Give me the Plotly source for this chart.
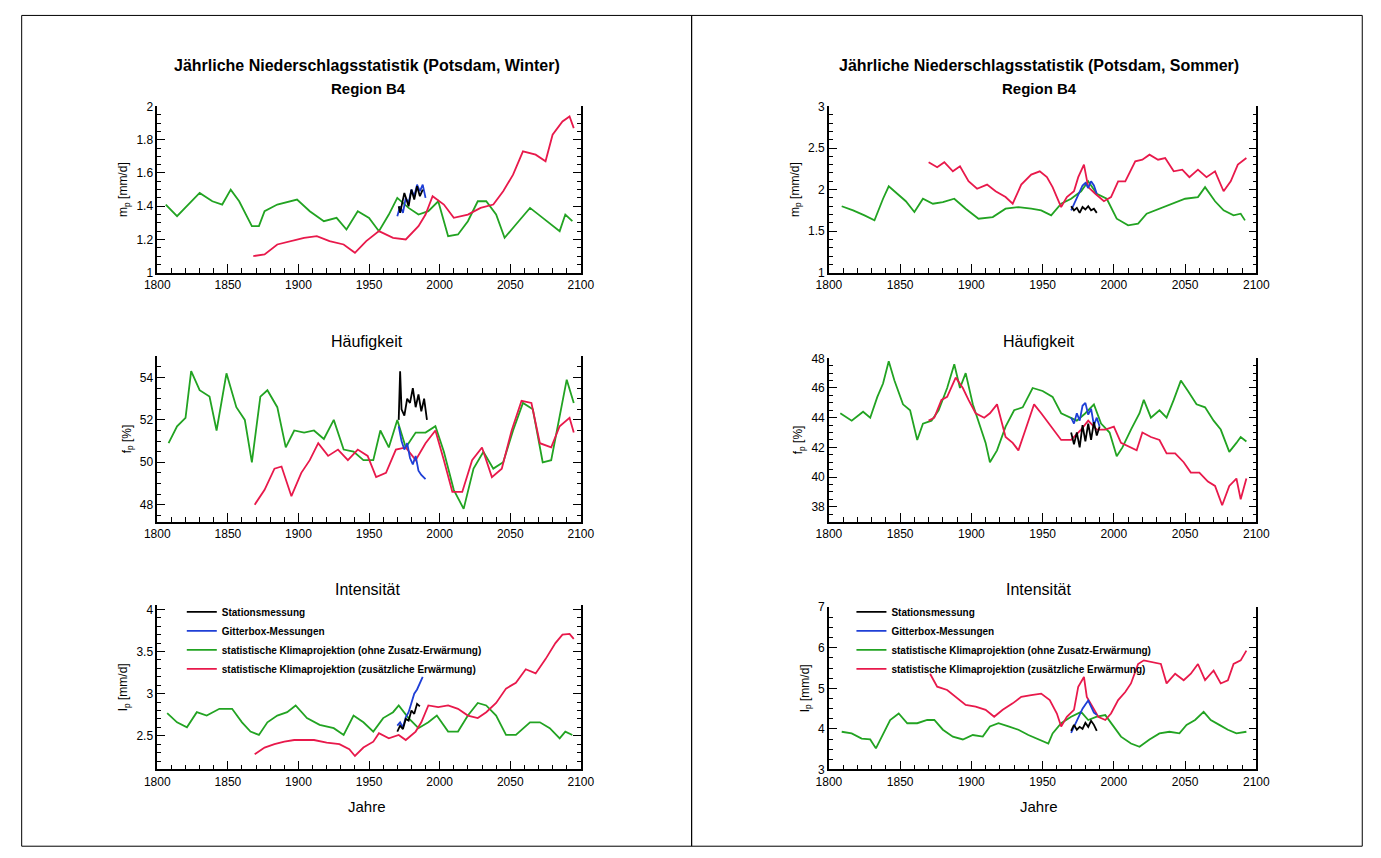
import plotly.graph_objects as go

# ---------------- DATA ----------------
years_axis = [1800, 2100]

# Winter, mean precipitation m_p [mm/d]
w_m_green_x = [1806, 1814, 1830, 1839, 1846, 1852, 1858, 1867, 1872, 1876, 1885, 1899, 1908, 1918, 1927, 1934, 1942, 1950, 1957, 1964, 1970, 1978, 1985, 1992, 1999, 2006, 2013, 2020, 2027, 2033, 2040, 2046, 2054, 2064, 2073, 2085, 2089, 2094]
w_m_green_y = [1.41, 1.34, 1.48, 1.43, 1.41, 1.50, 1.43, 1.28, 1.28, 1.37, 1.41, 1.44, 1.37, 1.31, 1.33, 1.26, 1.37, 1.33, 1.25, 1.35, 1.45, 1.39, 1.35, 1.37, 1.43, 1.22, 1.23, 1.31, 1.43, 1.43, 1.35, 1.21, 1.29, 1.39, 1.33, 1.25, 1.35, 1.31]
w_m_red_x = [1868, 1876, 1885, 1894, 1904, 1913, 1922, 1932, 1940, 1948, 1957, 1967, 1976, 1985, 1990, 1995, 2003, 2010, 2020, 2029, 2038, 2045, 2052, 2059, 2068, 2075, 2080, 2087, 2092, 2095]
w_m_red_y = [1.10, 1.11, 1.17, 1.19, 1.21, 1.22, 1.19, 1.17, 1.12, 1.19, 1.25, 1.21, 1.20, 1.28, 1.35, 1.46, 1.41, 1.33, 1.35, 1.39, 1.41, 1.49, 1.59, 1.73, 1.71, 1.67, 1.83, 1.91, 1.94, 1.87]
w_m_black_x = [1971, 1972, 1975, 1978, 1980, 1982, 1984, 1986, 1988]
w_m_black_y = [1.40, 1.36, 1.48, 1.40, 1.50, 1.44, 1.52, 1.46, 1.50]
w_m_blue_x = [1970, 1972, 1974, 1976, 1978, 1980, 1982, 1984, 1986, 1988, 1990]
w_m_blue_y = [1.34, 1.40, 1.36, 1.45, 1.42, 1.50, 1.46, 1.53, 1.49, 1.53, 1.45]

# Winter, frequency f_p [%]
w_f_green_x = [1808, 1814, 1820, 1824, 1830, 1837, 1842, 1849, 1856, 1862, 1867, 1873, 1878, 1885, 1891, 1897, 1904, 1911, 1918, 1925, 1932, 1939, 1946, 1953, 1958, 1964, 1970, 1976, 1983, 1990, 1997, 2003, 2010, 2017, 2024, 2031, 2038, 2045, 2052, 2059, 2066, 2073, 2079, 2085, 2090, 2095]
w_f_green_y = [50.9, 51.7, 52.1, 54.3, 53.4, 53.1, 51.5, 54.2, 52.6, 52.0, 50.0, 53.1, 53.4, 52.6, 50.7, 51.5, 51.4, 51.5, 51.1, 52.0, 50.6, 50.5, 50.1, 50.1, 51.5, 50.7, 52.0, 50.7, 51.4, 51.4, 51.7, 50.5, 48.7, 47.8, 49.7, 50.5, 49.7, 50.0, 51.5, 52.8, 52.5, 50.0, 50.1, 52.1, 53.9, 52.8]
w_f_red_x = [1869, 1876, 1883, 1888, 1895, 1902, 1908, 1914, 1921, 1928, 1935, 1942, 1949, 1955, 1962, 1969, 1976, 1983, 1990, 1997, 2003, 2009, 2016, 2023, 2030, 2037, 2044, 2051, 2058, 2065, 2071, 2079, 2085, 2092, 2095]
w_f_red_y = [48.0, 48.7, 49.7, 49.8, 48.4, 49.5, 50.1, 50.9, 50.3, 50.6, 50.1, 50.6, 50.3, 49.3, 49.5, 50.6, 50.7, 50.1, 50.9, 51.5, 50.1, 48.6, 48.6, 50.1, 50.7, 49.3, 49.7, 51.5, 52.9, 52.8, 50.9, 50.7, 51.7, 52.1, 51.4]
w_f_black_x = [1971, 1972, 1973, 1975, 1977, 1979, 1981, 1983, 1985, 1987, 1989, 1991]
w_f_black_y = [52.0, 54.3, 52.5, 52.2, 53.0, 52.8, 53.5, 52.6, 53.2, 52.4, 53.0, 52.0]
w_f_blue_x = [1971, 1973, 1975, 1977, 1979, 1981, 1983, 1985, 1987, 1990]
w_f_blue_y = [51.7, 51.0, 50.6, 50.9, 50.2, 49.9, 50.3, 49.6, 49.4, 49.2]

# Winter, intensity I_p [mm/d]
w_i_green_x = [1807, 1814, 1821, 1828, 1835, 1844, 1853, 1860, 1866, 1872, 1878, 1885, 1892, 1898, 1906, 1915, 1925, 1932, 1939, 1946, 1953, 1960, 1967, 1971, 1978, 1985, 1992, 1998, 2006, 2013, 2020, 2027, 2033, 2040, 2047, 2054, 2064, 2071, 2078, 2085, 2089, 2094]
w_i_green_y = [2.77, 2.66, 2.60, 2.78, 2.74, 2.82, 2.82, 2.66, 2.55, 2.51, 2.66, 2.74, 2.78, 2.86, 2.71, 2.63, 2.59, 2.51, 2.74, 2.66, 2.55, 2.71, 2.78, 2.86, 2.71, 2.59, 2.66, 2.74, 2.55, 2.55, 2.74, 2.89, 2.86, 2.74, 2.51, 2.51, 2.66, 2.66, 2.59, 2.47, 2.55, 2.51]
w_i_red_x = [1869, 1876, 1883, 1890, 1897, 1904, 1911, 1920, 1929, 1936, 1940, 1946, 1953, 1957, 1964, 1971, 1976, 1983, 1987, 1992, 1999, 2006, 2013, 2020, 2027, 2033, 2040, 2047, 2054, 2061, 2068, 2075, 2082, 2087, 2092, 2095]
w_i_red_y = [2.28, 2.36, 2.40, 2.43, 2.45, 2.45, 2.45, 2.42, 2.40, 2.34, 2.26, 2.36, 2.43, 2.53, 2.47, 2.51, 2.45, 2.55, 2.66, 2.86, 2.84, 2.86, 2.82, 2.74, 2.71, 2.78, 2.89, 3.06, 3.13, 3.29, 3.24, 3.41, 3.60, 3.70, 3.71, 3.65]
w_i_black_x = [1970, 1972, 1974, 1976, 1978, 1980, 1982, 1984, 1986]
w_i_black_y = [2.55, 2.62, 2.58, 2.70, 2.68, 2.80, 2.76, 2.88, 2.85]
w_i_blue_x = [1970, 1972, 1974, 1976, 1978, 1980, 1982, 1984, 1986, 1988]
w_i_blue_y = [2.62, 2.66, 2.60, 2.72, 2.78, 2.90, 3.00, 3.05, 3.12, 3.20]

# Summer, mean precipitation m_p [mm/d]
s_m_green_x = [1809, 1817, 1825, 1832, 1838, 1842, 1848, 1854, 1860, 1866, 1873, 1880, 1888, 1896, 1905, 1915, 1924, 1933, 1942, 1949, 1956, 1963, 1970, 1977, 1982, 1988, 1995, 2002, 2010, 2017, 2023, 2032, 2041, 2050, 2059, 2064, 2071, 2077, 2084, 2089, 2092]
s_m_green_y = [1.80, 1.75, 1.69, 1.63, 1.89, 2.04, 1.95, 1.86, 1.73, 1.89, 1.83, 1.85, 1.89, 1.77, 1.65, 1.67, 1.77, 1.79, 1.77, 1.75, 1.69, 1.83, 1.89, 1.98, 2.10, 1.95, 1.89, 1.65, 1.57, 1.59, 1.71, 1.77, 1.83, 1.89, 1.91, 2.03, 1.86, 1.75, 1.69, 1.71, 1.63]
s_m_red_x = [1870, 1876, 1881, 1887, 1892, 1898, 1904, 1911, 1917, 1924, 1929, 1935, 1942, 1948, 1953, 1957, 1963, 1967, 1972, 1975, 1979, 1982, 1987, 1993, 1998, 2003, 2008, 2015, 2020, 2025, 2031, 2036, 2042, 2048, 2053, 2059, 2065, 2071, 2077, 2082, 2087, 2093]
s_m_red_y = [2.33, 2.27, 2.33, 2.22, 2.28, 2.10, 2.01, 2.06, 1.98, 1.91, 1.83, 2.06, 2.18, 2.22, 2.15, 2.03, 1.79, 1.91, 1.98, 2.15, 2.30, 2.03, 1.95, 1.86, 1.91, 2.10, 2.10, 2.34, 2.36, 2.42, 2.36, 2.38, 2.22, 2.24, 2.15, 2.24, 2.15, 2.22, 1.98, 2.10, 2.30, 2.38]
s_m_black_x = [1970, 1972, 1974, 1976, 1978, 1980, 1982, 1984, 1986, 1988]
s_m_black_y = [1.80, 1.75, 1.78, 1.72, 1.79, 1.76, 1.80, 1.75, 1.77, 1.72]
s_m_blue_x = [1970, 1972, 1974, 1976, 1978, 1980, 1982, 1984, 1986, 1988]
s_m_blue_y = [1.75, 1.82, 1.90, 1.98, 2.05, 2.08, 2.02, 2.10, 2.05, 1.95]

# Summer, frequency f_p [%]
s_f_green_x = [1808, 1816, 1824, 1829, 1834, 1838, 1842, 1846, 1852, 1857, 1862, 1866, 1872, 1877, 1883, 1888, 1892, 1896, 1901, 1905, 1910, 1913, 1918, 1924, 1930, 1936, 1943, 1950, 1957, 1963, 1969, 1974, 1980, 1986, 1991, 1997, 2002, 2006, 2012, 2018, 2021, 2026, 2032, 2037, 2042, 2047, 2052, 2058, 2064, 2070, 2075, 2081, 2086, 2089, 2093]
s_f_green_y = [44.3, 43.8, 44.4, 44.0, 45.4, 46.3, 47.8, 46.5, 44.9, 44.5, 42.5, 43.6, 43.8, 44.5, 46.0, 47.6, 46.0, 47.0, 44.9, 43.8, 42.3, 41.0, 41.8, 43.4, 44.5, 44.7, 46.0, 45.8, 45.4, 44.3, 44.0, 43.8, 44.3, 44.9, 43.6, 43.0, 41.4, 42.0, 43.2, 44.3, 45.2, 44.0, 44.5, 44.0, 45.2, 46.5, 45.8, 44.9, 44.7, 43.8, 43.2, 41.7, 42.3, 42.7, 42.4]
s_f_red_x = [1870, 1874, 1879, 1883, 1889, 1894, 1898, 1903, 1909, 1913, 1918, 1924, 1929, 1933, 1938, 1944, 1949, 1956, 1963, 1970, 1977, 1982, 1988, 1994, 2000, 2005, 2011, 2016, 2020, 2026, 2032, 2037, 2043, 2049, 2054, 2060, 2066, 2071, 2076, 2081, 2086, 2089, 2093]
s_f_red_y = [43.8, 44.0, 45.2, 45.4, 46.7, 46.0, 45.2, 44.3, 44.0, 44.3, 44.9, 42.7, 42.3, 41.8, 43.2, 44.9, 44.3, 43.4, 42.5, 42.5, 43.2, 43.8, 43.2, 43.2, 43.4, 42.3, 42.0, 41.8, 43.0, 42.7, 42.5, 41.6, 41.6, 41.0, 40.3, 40.3, 39.7, 39.4, 38.1, 39.4, 39.9, 38.5, 39.9]
s_f_black_x = [1970, 1972, 1974, 1976, 1978, 1980, 1982, 1984, 1986, 1988, 1990]
s_f_black_y = [43.0, 42.2, 43.0, 42.0, 43.5, 42.4, 43.6, 42.5, 43.7, 42.8, 43.4]
s_f_blue_x = [1970, 1972, 1974, 1976, 1978, 1980, 1982, 1984, 1986, 1988, 1990]
s_f_blue_y = [44.0, 43.6, 44.3, 43.8, 44.8, 45.0, 44.2, 44.6, 43.5, 44.0, 43.4]

# Summer, intensity I_p [mm/d]
s_i_green_x = [1809, 1816, 1823, 1829, 1833, 1838, 1843, 1849, 1855, 1862, 1869, 1874, 1880, 1887, 1894, 1901, 1908, 1913, 1919, 1926, 1933, 1940, 1947, 1954, 1957, 1963, 1970, 1977, 1982, 1988, 1994, 2000, 2005, 2012, 2018, 2025, 2032, 2039, 2046, 2051, 2057, 2063, 2068, 2074, 2080, 2086, 2093]
s_i_green_y = [3.93, 3.89, 3.76, 3.74, 3.52, 3.89, 4.22, 4.38, 4.14, 4.14, 4.22, 4.22, 3.98, 3.81, 3.74, 3.85, 3.81, 4.06, 4.14, 4.06, 3.98, 3.85, 3.74, 3.64, 3.89, 4.14, 4.30, 4.42, 4.22, 4.30, 4.34, 4.06, 3.81, 3.64, 3.56, 3.74, 3.89, 3.93, 3.89, 4.10, 4.22, 4.42, 4.22, 4.10, 3.98, 3.89, 3.93]
s_i_red_x = [1871, 1876, 1883, 1889, 1896, 1903, 1910, 1916, 1922, 1929, 1935, 1942, 1949, 1955, 1960, 1963, 1967, 1972, 1975, 1979, 1981, 1985, 1989, 1994, 1998, 2003, 2008, 2012, 2017, 2021, 2027, 2033, 2037, 2043, 2049, 2054, 2059, 2064, 2070, 2075, 2080, 2084, 2089, 2093]
s_i_red_y = [5.36, 5.04, 4.96, 4.79, 4.59, 4.55, 4.47, 4.30, 4.47, 4.63, 4.79, 4.83, 4.87, 4.71, 4.38, 4.06, 4.30, 4.47, 5.04, 5.28, 4.79, 4.55, 4.30, 4.22, 4.38, 4.71, 4.91, 5.12, 5.60, 5.69, 5.65, 5.60, 5.12, 5.36, 5.20, 5.36, 5.60, 5.20, 5.44, 5.12, 5.20, 5.60, 5.69, 5.93]
s_i_black_x = [1970, 1972, 1974, 1976, 1978, 1980, 1982, 1984, 1986, 1988]
s_i_black_y = [3.95, 4.10, 3.98, 4.05, 4.00, 4.15, 4.05, 4.20, 4.10, 3.95]
s_i_blue_x = [1970, 1972, 1974, 1976, 1978, 1980, 1982, 1984, 1986, 1988]
s_i_blue_y = [3.90, 4.05, 4.20, 4.35, 4.50, 4.60, 4.70, 4.55, 4.40, 4.35]

legend_names = [
    "Stationsmessung",
    "Gitterbox-Messungen",
    "statistische Klimaprojektion (ohne Zusatz-Erwärmung)",
    "statistische Klimaprojektion (zusätzliche Erwärmung)",
]

# ---------------- FIGURE ----------------
W, H = 1381, 858
OFF = 8  # page offset of the plot div in the browser
GREEN = "#22a322"
RED = "#e8194b"
BLUE = "#1f3fd6"
BLACK = "#000000"
FONT = "Liberation Sans"

fig = go.Figure()

def px_x(p):
    return (p - OFF) / W

def px_y(p):
    return 1 - (p - OFF) / H

def dx(a, b):
    return [px_x(a), px_x(b)]

def dy(top, bottom):
    return [px_y(bottom), px_y(top)]

LX = dx(147, 579)
RX = dx(832, 1268)
panels = [
    (1, LX, dy(101, 270), [1.0, 2.0], 0.2, 0.05, "m<sub>p</sub> [mm/d]",
     (w_m_green_x, w_m_green_y, w_m_red_x, w_m_red_y, w_m_blue_x, w_m_blue_y, w_m_black_x, w_m_black_y), None),
    (2, LX, dy(355, 523), [47.2, 55.0], 2, 0.5, "f<sub>p</sub> [%]",
     (w_f_green_x, w_f_green_y, w_f_red_x, w_f_red_y, w_f_blue_x, w_f_blue_y, w_f_black_x, w_f_black_y), None),
    (3, LX, dy(608, 775), [2.1, 4.05], 0.5, 0.1, "I<sub>p</sub> [mm/d]",
     (w_i_green_x, w_i_green_y, w_i_red_x, w_i_red_y, w_i_blue_x, w_i_blue_y, w_i_black_x, w_i_black_y), "legend"),
    (4, RX, dy(101, 270), [1.0, 3.0], 0.5, 0.1, "m<sub>p</sub> [mm/d]",
     (s_m_green_x, s_m_green_y, s_m_red_x, s_m_red_y, s_m_blue_x, s_m_blue_y, s_m_black_x, s_m_black_y), None),
    (5, RX, dy(357, 523), [37.0, 48.0], 2, 0.5, "f<sub>p</sub> [%]",
     (s_f_green_x, s_f_green_y, s_f_red_x, s_f_red_y, s_f_blue_x, s_f_blue_y, s_f_black_x, s_f_black_y), None),
    (6, RX, dy(610, 775), [3.0, 7.0], 1, 0.25, "I<sub>p</sub> [mm/d]",
     (s_i_green_x, s_i_green_y, s_i_red_x, s_i_red_y, s_i_blue_x, s_i_blue_y, s_i_black_x, s_i_black_y), "legend2"),
]

layout_axes = {}
for idx, xd, yd, yr, dt, mn, yt, data, leg in panels:
    xa = "x" if idx == 1 else f"x{idx}"
    ya = "y" if idx == 1 else f"y{idx}"
    gx, gy, rx, ry, bx, by, kx, ky = data
    show = leg is not None
    lg = leg if leg else "legend"
    series = [
        (gx, gy, GREEN, legend_names[2], 3),
        (rx, ry, RED, legend_names[3], 4),
        (bx, by, BLUE, legend_names[1], 2),
        (kx, ky, BLACK, legend_names[0], 1),
    ]
    for sx, sy, col, nm, rank in series:
        fig.add_trace(go.Scatter(
            x=sx, y=sy, mode="lines", name=nm, xaxis=xa, yaxis=ya,
            line=dict(color=col, width=1.8), showlegend=show,
            legend=lg, legendrank=rank, hoverinfo="skip",
        ))
    base = dict(showline=True, linecolor="black", linewidth=1.5,
                ticks="inside", tickcolor="black", showgrid=False,
                zeroline=False, tickfont=dict(family=FONT, size=12, color="black"))
    xkey = "xaxis" if idx == 1 else f"xaxis{idx}"
    ykey = "yaxis" if idx == 1 else f"yaxis{idx}"
    layout_axes[xkey] = dict(domain=xd, anchor=ya, range=years_axis, dtick=50, tick0=1800,
                             mirror=False, ticklen=9,
                             minor=dict(ticks="inside", ticklen=5, dtick=10, tickcolor="black"),
                             **base)
    layout_axes[ykey] = dict(domain=yd, anchor=xa, range=yr, dtick=dt, tick0=0,
                             mirror="ticks", ticklen=8,
                             minor=dict(ticks="inside", ticklen=4, dtick=mn, tickcolor="black"),
                             title=dict(text=yt, font=dict(family=FONT, size=12, color="black"), standoff=6),
                             **base)

fig.update_layout(**layout_axes)

def ann(text, xpx, ypx, size=13, bold=True):
    fig.add_annotation(text=f"<b>{text}</b>" if bold else text, x=px_x(xpx), y=px_y(ypx),
                       xref="paper", yref="paper", showarrow=False,
                       font=dict(family=FONT, size=size, color="black"),
                       xanchor="center", yanchor="middle")

ann("Jährliche Niederschlagsstatistik (Potsdam, Winter)", 361, 59, 16)
ann("Region B4", 362, 83, 15)
ann("Häufigkeit", 361, 340, 16, bold=False)
ann("Intensität", 361, 592, 16, bold=False)
ann("Jahre", 361, 813, 15, bold=False)

ann("Jährliche Niederschlagsstatistik (Potsdam, Sommer)", 1046, 59, 16)
ann("Region B4", 1047, 83, 15)
ann("Häufigkeit", 1046, 340, 16, bold=False)
ann("Intensität", 1046, 592, 16, bold=False)
ann("Jahre", 1046, 813, 15, bold=False)

# page frames
for x0, x1 in [(6, 692), (692, 1376)]:
    fig.add_shape(type="rect", xref="paper", yref="paper",
                  x0=max(px_x(x0), 0.0005), x1=px_x(x1), y0=px_y(853), y1=min(px_y(6), 0.9995),
                  line=dict(color="black", width=1))

legkw = dict(bgcolor="rgba(0,0,0,0)", borderwidth=0, tracegroupgap=0,
             font=dict(family=FONT, size=10, color="black", weight="bold"),
             xanchor="left", yanchor="top", itemwidth=30)
fig.update_layout(
    width=W, height=H, margin=dict(l=0, r=0, t=0, b=0),
    paper_bgcolor="white", plot_bgcolor="white",
    legend=dict(x=px_x(172), y=px_y(600), **legkw),
    legend2=dict(x=px_x(855), y=px_y(600), **legkw),
)

fig.write_html("out.html")
